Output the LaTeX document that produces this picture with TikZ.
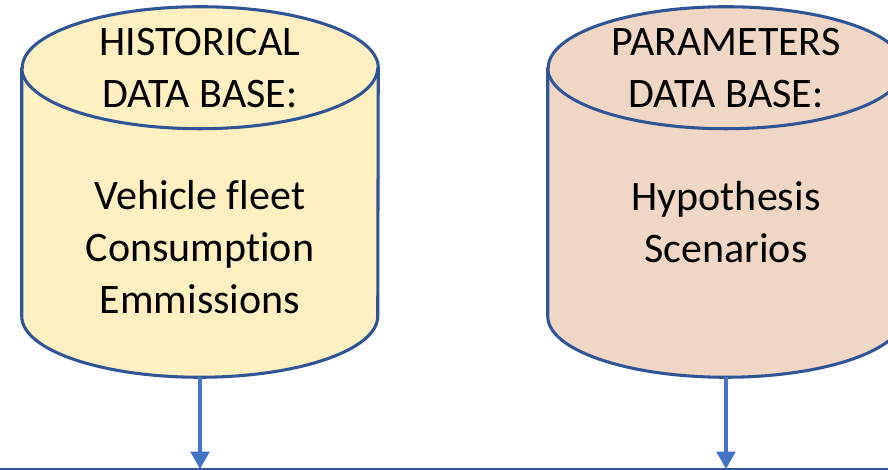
\documentclass[tikz,border=0pt]{standalone}
\usepackage{fontspec}
\setmainfont[Ligatures=NoCommon]{Carlito}
\usetikzlibrary{arrows.meta,calc}
\definecolor{dbline}{RGB}{47,85,151}
\definecolor{dbarrow}{RGB}{68,114,196}
\definecolor{histfill}{RGB}{255,239,193}
\definecolor{parfill}{RGB}{240,214,196}
\tikzset{
  dbbody/.style={minimum width=267pt, minimum height=277.5pt, inner sep=0pt},
  dbwall/.style={draw=dbline, line width=2.3pt, line join=round},
  dbtext/.style={font=\fontsize{31.5}{39}\selectfont, align=center, inner sep=0pt},
  feed/.style={-{Triangle[length=13pt,width=14pt]}, dbarrow, line width=2.3pt},
  bus/.style={dbline, line width=1.4pt},
}
\begin{document}
\begin{tikzpicture}[x=0.75pt,y=0.75pt]
  \useasboundingbox (0,0) rectangle (888,470);
  % the two data bases, drawn round their bodies
  \node[dbbody] (hist) at (200,278) {};
  \node[dbbody] (param) at (726,278) {};
  \foreach \db/\col in {hist/histfill, param/parfill} {
    \filldraw[dbwall, fill=\col] ($(\db.north west)+(0,-61)$) -- ($(\db.south west)+(0,61)$)
      arc[start angle=180, end angle=360, x radius=178, y radius=61]
      -- ($(\db.north east)+(0,-61)$)
      arc[start angle=0, end angle=180, x radius=178, y radius=61] -- cycle;
    \draw[dbwall] ($(\db.north west)+(0,-61)$)
      arc[start angle=180, end angle=360, x radius=178, y radius=61];
  }
  \node[dbtext] (histname) at (200,402) {HISTORICAL\\DATA BASE:};
  \node[dbtext] (histdata) at (200,223) {Vehicle fleet\\Consumption\\Emmissions};
  \node[dbtext] (parname) at (726,402) {PARAMETERS\\DATA BASE:};
  \node[dbtext] (pardata) at (726,248) {Hypothesis\\Scenarios};
  % line they both feed into
  \coordinate (busL) at (0,1);
  \coordinate (busR) at (888,1);
  \draw[bus] (busL) -- (busR);
  \draw[feed] (hist.south) -- (hist.south |- busL);
  \draw[feed] (param.south) -- (param.south |- busL);
\end{tikzpicture}
\end{document}
